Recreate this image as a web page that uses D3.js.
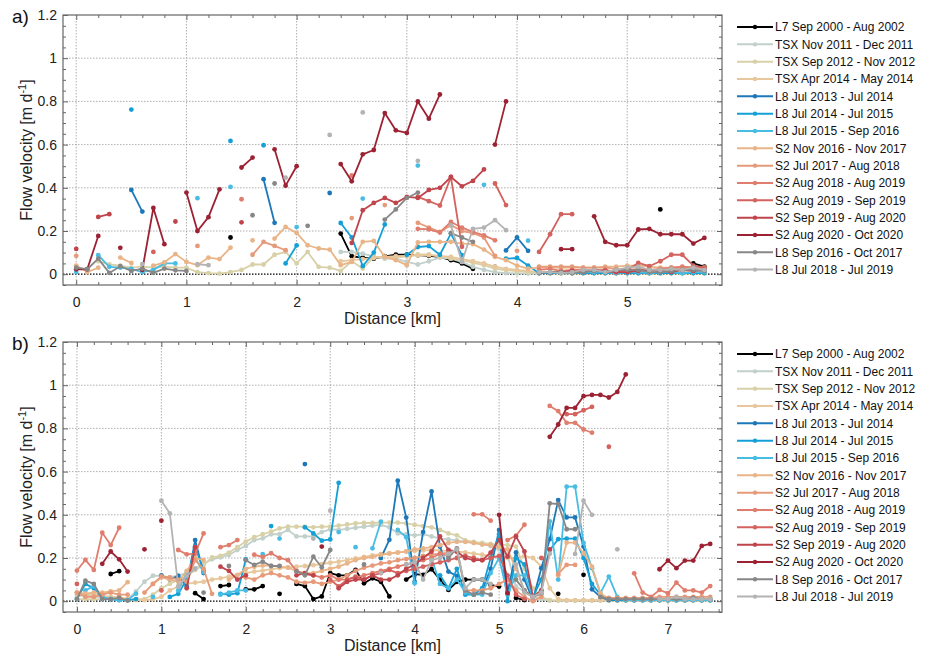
<!DOCTYPE html>
<html>
<head>
<meta charset="utf-8">
<script src="https://cdn.jsdelivr.net/npm/d3@7"></script>
<style>
  body { margin: 0; background: #fff; }
  svg { font-family: "Liberation Sans", Arial, Helvetica, sans-serif; }
</style>
</head>
<body>
<div id="chart"></div>
<script>
const _ = null;

const seriesLabels = [
    "L7 Sep 2000 - Aug 2002", "TSX Nov 2011 - Dec 2011", "TSX Sep 2012 - Nov 2012", "TSX Apr 2014 - May 2014",
    "L8 Jul 2013 - Jul 2014", "L8 Jul 2014 - Jul 2015", "L8 Jul 2015 - Sep 2016",
    "S2 Nov 2016 - Nov 2017", "S2 Jul 2017 - Aug 2018", "S2 Aug 2018 - Aug 2019", "S2 Aug 2019 - Sep 2019",
    "S2 Sep 2019 - Aug 2020", "S2 Aug 2020 - Oct 2020", "L8 Sep 2016 - Oct 2017", "L8 Jul 2018 - Jul 2019"
];
const seriesColors = [
    "#000000", "#c2d0cb", "#d8d1a8", "#e8c79c", "#1c78b8", "#14a0d6", "#48bde4",
    "#e9b487", "#e69a79", "#e07d6c", "#d4625e", "#c0444b", "#9c2233", "#878787", "#b3b3b3"
];

// sample spacing along the profile (km)
const stepKm = 0.1;

// ---- panel a) values, one per 0.1 km from 0 to 5.7 km ----
const aL7 = [_,_,_,_,_,_,_,_,_,_,
    _,_,_,_,.17,_,_,_,_,_,
    _,_,_,_,.188,.083,.077,.072,.083,.09,
    .09,.088,.085,.08,.065,.05,.025,_,.034,_,
    _,_,_,_,_,_,_,_,_,_,
    _,_,_,.3,_,_,.05,.035];
const aTSX2011 = [_,_,_,_,_,_,_,_,_,_,
    _,_,_,_,_,_,_,_,_,_,
    _,_,_,_,.103,.103,.095,.083,.072,.072,
    .057,.045,.06,.077,.072,.057,.034,.02,.01,.005,
    .004,.003,.003,_,_,_,_,_,_,_,
    _,_,_,_,_,_,_,_];
const aTSX2012 = [_,_,.06,.045,.04,.03,.035,.03,.035,.03,
    .03,.01,.005,.003,.01,.02,.045,.045,.09,.103,
    .05,.103,.034,.03,.015,.06,.026,.08,.08,.077,
    .083,.092,.092,.08,.072,.065,.052,.042,.026,.018,
    .014,.01,.005,.003,.003,.003,.003,.003,.003,.003,
    .003,.003,.003,.003,.003,.003,.003,.003];
const aTSX2014 = [_,_,_,_,_,_,_,_,_,_,
    _,_,_,_,_,_,_,_,_,_,
    _,_,_,_,.06,.065,.07,.075,.08,.083,
    .085,.087,.088,.085,.08,.07,.06,.05,.035,.025,
    .02,.015,.01,.01,.01,.01,.01,.01,.01,.01,
    .01,.01,.01,.01,.01,.01,.01,.01];
const aL8_1314 = [_,_,_,_,_,.39,.29,_,_,_,
    _,_,_,_,_,_,_,.44,.238,_,
    _,_,_,.376,_,_,_,_,_,_,
    _,_,_,_,_,_,_,_,_,.11,
    .17,.108,_,_,_,_,_,_,_,_,
    _,_,_,_,_,_,_,_];
const aL8_1415 = [_,_,_,_,_,.762,_,_,_,_,
    _,_,_,_,.617,_,_,.597,_,.05,
    .133,_,_,_,.237,.17,.038,.1,.23,_,
    .09,.126,.13,.09,.188,.088,_,_,_,.072,
    .075,.04,.005,.005,.005,.005,.005,.005,.005,.005,
    .005,.005,.005,.005,.005,.005,.005,.005];
const aL8_1516 = [.01,_,.088,.034,.03,.025,.01,.02,.05,.05,
    _,.352,_,_,.404,_,_,_,_,_,
    .218,_,_,_,_,_,.35,_,_,_,
    _,.503,_,_,_,_,_,.414,_,_,
    _,.155,_,.01,.01,.005,.01,.01,.01,.005,
    .01,.01,.005,.01,.01,.005,.01,.01];
const aS2_1617 = [.04,.01,.03,_,.077,.052,_,.04,.055,.093,
    .057,.042,.077,.07,.123,_,.157,_,.165,.219,
    .191,.134,.119,.114,.042,.057,.15,.154,.08,.065,
    .042,.147,.15,.15,.15,.142,.139,.114,.08,.065,
    .04,.026,.03,.03,.03,.03,.03,.03,.035,.035,
    .04,.04,.035,.03,.03,.03,.035,.03];
const aS2_1718 = [.085,_,_,_,_,_,_,_,_,_,
    _,.131,_,_,_,_,.09,.15,.131,.111,
    _,_,_,_,_,.26,_,_,.32,_,
    _,.238,.216,.196,.227,.2,.19,.17,.085,_,
    .108,_,.035,.035,.035,.035,.03,.03,.03,.025,
    .02,.025,.02,.02,.025,.025,.03,.03];
const aS2_1819 = [_,_,_,_,_,_,_,_,_,_,
    _,_,_,_,_,.347,_,_,_,_,
    _,_,_,_,_,.457,_,_,_,_,
    _,.21,.208,.193,.242,.216,.196,.18,.157,_,
    _,_,.02,.025,.015,.02,.02,.015,.02,.01,
    .015,.02,.02,.025,.03,.035,.03,.025];
const aS2_1919 = [_,_,_,_,_,_,_,.103,_,_,
    _,_,_,_,_,_,_,_,_,_,
    _,_,_,_,_,_,_,_,_,_,
    _,.358,.338,.318,.45,.127,_,_,.42,.32,
    _,_,.103,.185,.278,.278,_,_,.01,.015,
    .02,.052,.037,.06,.09,.09,.04,.03];
const aS2_1920 = [.117,_,.265,.278,_,_,_,_,_,.244,
    _,_,_,_,_,.24,_,_,_,_,
    _,_,_,_,_,.145,.296,.33,.353,.33,
    .358,.353,.39,.4,.45,.407,.432,.485,_,_,
    _,_,_,.01,.01,.015,.01,.02,.015,.01,
    .01,.015,.02,.015,.01,.02,.015,.02];
const aS2_2020 = [.023,.023,.177,_,.122,_,.02,.307,.139,_,
    .378,.2,.264,.393,_,.494,.54,_,.578,.41,
    .5,_,_,_,.51,.43,.555,.575,.746,.666,
    .654,.8,.72,.832,_,_,_,_,.6,.8,
    _,_,_,_,.116,.116,_,.268,.15,.134,
    .134,.207,.21,.185,.185,.185,.142,.168];
const aL8_1617 = [.03,.023,.072,.006,.037,.015,.026,.006,.026,.018,
    .015,_,_,_,_,_,.273,_,.42,_,
    _,.224,_,_,_,_,_,_,.253,.3,
    .353,.378,_,_,.19,.17,.15,_,_,_,
    _,_,.005,.01,.01,.005,.01,.015,.01,.02,
    .02,.02,.01,.01,.015,.02,.02,.015];
const aL8_1819 = [_,_,_,_,_,_,.047,_,_,_,
    _,.046,.042,_,_,_,_,_,_,.447,
    _,_,_,.645,_,_,.749,_,_,_,
    _,.525,_,_,.226,.057,.21,.216,.25,.204,
    _,_,.01,.01,.005,.01,.02,.02,.01,.02,
    .03,.035,.02,.02,.025,.02,.03,.02];

// ---- panel b) values, one per 0.1 km from 0 to 7.5 km ----
const bL7 = [_,_,_,_,.126,.139,_,_,_,_,
    _,_,_,_,.037,.01,_,.07,.075,_,
    .055,.055,.07,_,.034,_,.08,.07,.01,.022,
    .13,.12,.12,.145,.083,.106,.09,.022,_,.1,
    .125,.122,.148,.1,.052,.09,.1,.1,.1,.075,
    .068,_,.015,.005,_,_,_,.034,_,_,
    .122,_,_,_,_,_,_,_,_,_,
    _,_,_,_,_,_];
const bTSX2011 = [.02,.03,.02,.02,.02,.015,.01,.045,.09,.118,
    .117,.11,.12,.13,.153,.172,.194,.203,.214,.237,
    .256,.283,.291,.31,.31,.33,.3,.3,.3,.32,
    .333,.33,.335,.34,.345,.35,.353,.342,.314,.31,
    .305,.31,.3,.29,.286,.282,.275,.27,.265,.255,
    .24,.215,.068,.045,.02,.01,.003,.003,.003,.003,
    .003,.003,.003,.003,.003,.003,.003,.003,.003,.003,
    .003,.003,.003,.003,.003,.003];
const bTSX2012 = [.01,.01,.01,.01,.01,.01,.005,.01,.01,.03,
    .06,.08,.1,.114,.145,.168,.203,.21,.225,.25,
    .276,.296,.31,.322,.337,.345,.345,.345,.342,.345,
    .345,.35,.355,.36,.362,.362,.364,.364,.364,.36,
    .353,.348,.342,.33,.314,.305,.282,.275,.27,.265,
    .262,.26,.253,.15,.06,.02,.005,.003,.003,.003,
    .003,.003,.003,.003,.003,.003,.003,.003,.003,.003,
    .003,.003,.003,.003,.003,.003];
const bTSX2014 = [.03,.03,.03,.025,.02,.02,.01,.005,.005,.01,
    .02,.05,.068,.08,.086,.09,.1,.106,.114,.122,
    .13,.137,.142,.148,.153,.157,.16,.163,.167,.172,
    .178,.183,.19,.198,.205,.212,.218,.222,.226,.23,
    .233,.235,.237,.235,.232,.23,.226,.22,.215,.21,
    .205,.2,.2,.21,.2,.16,.06,.01,.005,.005,
    .005,.005,.005,.005,.005,.005,.005,.005,.005,.005,
    .005,.005,.005,.005,.005,.005];
const bL8_1314 = [_,_,_,_,_,_,_,_,_,_,
    .12,.1,.117,.068,.283,.13,_,_,_,_,
    _,_,_,_,_,_,_,.635,_,_,
    _,_,_,_,_,_,.2,.284,.558,.387,
    .09,.32,.508,.253,.137,.117,_,_,.05,.15,
    .33,.04,.226,.1,.006,.153,.287,.468,.388,.388,
    .253,.055,.02,.005,.005,.005,.005,.005,.005,.005,
    .005,.005,.005,.005,.005,.005];
const bL8_1415 = [.01,.08,.06,.01,.01,.005,.005,.01,_,_,
    _,.02,.034,.1,.253,.14,_,.034,.03,.037,
    .194,_,_,.348,_,_,_,.342,.314,.28,
    .286,.548,_,_,_,_,_,_,_,_,
    _,_,_,.12,.06,.15,.03,.03,.06,.2,
    .31,0,.2,.17,.02,.1,.237,.287,.29,.29,
    .2,.08,.03,.01,.005,.005,.005,.005,.005,.005,
    .005,.005,.005,.005,.005,.005];
const bL8_1516 = [_,.05,.07,.02,.01,.005,.005,.035,_,.02,
    _,_,.05,.13,.2,.135,_,.03,.04,.05,
    .05,_,.218,_,.29,_,_,_,_,_,
    _,.32,_,.25,_,.245,.368,_,.33,.296,
    .083,_,.2,.08,.06,.1,.04,.03,.03,.13,
    .2,.03,.12,.12,.02,.05,.37,.1,.53,.53,
    .27,.153,.037,.114,.02,.005,.005,.005,.005,.005,
    .005,.005,.005,.005,.005,.005];
const bS2_1617 = [.04,.035,.04,.04,.045,.05,.088,_,_,.08,
    .11,.1,.09,.14,.2,.19,_,_,.1,.12,
    .15,.16,.165,.165,.16,.155,.14,.13,.13,.14,
    .15,.16,.175,.19,.2,.205,.215,.22,.225,.23,
    .24,.245,.25,.26,.27,.275,.275,.27,.262,.26,
    .25,.24,.15,.05,.02,.03,_,.12,.271,.271,
    .222,.16,.037,.01,.01,.01,.01,.01,.01,.01,
    .01,.01,.01,.01,.01,.01];
const bS2_1718 = [.04,.02,.02,.03,.04,.03,.03,_,.04,.08,
    .115,.11,.1,.09,.19,.15,.034,_,_,_,
    .11,.1,.12,.13,.12,.11,.09,.085,.09,.08,
    .09,.1,.12,.14,.155,.165,.175,.18,.19,.195,
    .2,.21,.215,.22,.225,.23,.05,.05,.05,.06,
    .08,.1,.05,.02,0,.02,_,.126,.168,.168,
    _,_,.02,.015,.015,.015,.015,.015,.015,.02,
    .02,.02,.02,.02,.02,.02];
const bS2_1819 = [.142,.191,.145,.317,.26,.34,_,_,_,_,
    _,_,.237,.217,.22,.314,_,.25,.26,.283,
    _,.215,.205,.222,.2,.19,.14,.125,.12,.11,
    .12,.1,.1,.11,.12,.13,.14,.15,.16,.17,
    .18,.19,.2,.22,.21,_,_,.402,.402,.373,
    _,.283,.303,.354,_,_,.904,.88,.826,.826,
    .795,.78,_,_,_,_,.129,.04,.02,.052,
    .037,.086,.05,.05,.04,.07];
const bS2_1919 = [.08,_,_,_,_,_,_,_,_,_,
    .05,_,_,_,_,_,_,_,_,_,
    _,_,_,_,_,_,_,_,_,_,
    .1,.068,.1,.114,.1,.12,.13,.145,.13,.14,
    .15,.16,.17,.18,.19,.2,.21,.2,.19,.2,
    .21,.12,.03,.01,_,.2,_,_,.866,.866,
    .884,.9,_,.715,_,_,_,_,_,_,
    _,_,_,_,_,_];
const bS2_1920 = [_,_,_,_,_,_,_,_,_,_,
    _,_,_,.06,.25,_,_,.16,.14,.1,
    .12,_,_,_,_,_,.12,.13,.12,_,
    _,.06,.09,.1,.1,.12,.1,.1,.12,.15,
    .17,.2,.23,.3,.237,.23,.2,.19,.19,.225,
    .283,.206,.3,.23,.02,.05,.24,_,_,_,
    _,_,_,_,_,_,_,_,_,_,
    _,_,_,_,_,_];
const bS2_2020 = [_,_,_,.173,.23,.194,.137,_,.24,_,
    .373,_,_,_,_,_,_,_,_,_,
    _,_,_,_,_,_,_,_,_,.253,
    _,_,_,_,_,_,_,_,_,_,
    _,_,_,_,_,_,_,_,_,_,
    .4,.037,_,_,_,_,.761,.818,.895,.895,
    .949,.955,.955,.943,.969,1.05,_,_,_,.148,
    .188,.153,.188,.188,.256,.265];
const bL8_1617 = [.01,.095,.08,.01,.01,.015,.003,_,_,_,
    _,_,_,_,_,.04,_,_,.163,_,
    .19,.168,.183,.163,.163,_,.138,.12,.206,.157,
    .237,_,_,_,.17,_,_,_,_,_,
    _,_,_,_,.2,.245,.05,.03,.04,.03,
    _,_,.1,.05,.02,.037,.453,.45,.333,.333,
    _,_,.02,.01,.01,.01,.01,.01,.01,.01,
    .01,.01,.01,.015,.01,.01];
const bL8_1819 = [_,_,_,_,_,_,_,_,_,_,
    .465,.407,.068,.117,.15,_,_,_,_,_,
    _,_,_,_,_,_,_,_,.29,_,
    .419,_,_,_,_,_,.13,_,_,.17,
    .18,.1,.19,.2,.22,.24,.06,.1,.1,.08,
    _,_,.17,.04,.02,.04,.22,_,_,.219,
    .465,.4,_,_,.24,_,_,_,_,.01,
    .01,.02,.01,.01,.01,.01];

const panelAValues = [aL7, aTSX2011, aTSX2012, aTSX2014, aL8_1314, aL8_1415, aL8_1516,
    aS2_1617, aS2_1718, aS2_1819, aS2_1919, aS2_1920, aS2_2020, aL8_1617, aL8_1819];
const panelBValues = [bL7, bTSX2011, bTSX2012, bTSX2014, bL8_1314, bL8_1415, bL8_1516,
    bS2_1617, bS2_1718, bS2_1819, bS2_1919, bS2_1920, bS2_2020, bL8_1617, bL8_1819];

const yTicks = [0, 0.2, 0.4, 0.6, 0.8, 1, 1.2];

const svg = d3.select("#chart")
    .append("svg")
    .attr("width", 927)
    .attr("height", 656);

function drawPanel(cfg) {
    const { id, tag, top, bottom, left, right, xDomain, xTicks, values } = cfg;

    const x = d3.scaleLinear().domain(xDomain).range([left, right]);
    const y = d3.scaleLinear().domain([-0.05, 1.2]).range([bottom, top]);

    const g = svg.append("g");

    svg.append("clipPath").attr("id", "clip-" + id)
        .append("rect")
        .attr("x", left).attr("y", top)
        .attr("width", right - left).attr("height", bottom - top);

    // grid
    g.append("g").selectAll("line")
        .data(xTicks)
        .join("line")
        .attr("x1", d => x(d)).attr("x2", d => x(d))
        .attr("y1", top).attr("y2", bottom)
        .attr("stroke", "#9b9b9b")
        .attr("stroke-width", 0.8)
        .attr("stroke-dasharray", "1.5,1.5");

    g.append("g").selectAll("line")
        .data(yTicks.filter(d => d > 0 && d < 1.2))
        .join("line")
        .attr("x1", left).attr("x2", right)
        .attr("y1", d => y(d)).attr("y2", d => y(d))
        .attr("stroke", "#9b9b9b")
        .attr("stroke-width", 0.8)
        .attr("stroke-dasharray", "1.5,1.5");

    g.append("line")
        .attr("x1", left).attr("x2", right)
        .attr("y1", y(0)).attr("y2", y(0))
        .attr("stroke", "#000")
        .attr("stroke-width", 1.2)
        .attr("stroke-dasharray", "1.5,1.5");

    // series
    const plot = g.append("g").attr("clip-path", `url(#clip-${id})`);
    const line = d3.line()
        .defined(d => d.v !== null)
        .x(d => x(d.d))
        .y(d => y(d.v));

    values.forEach((vals, si) => {
        const pts = vals.map((v, i) => ({ d: i * stepKm, v: v }));
        const sg = plot.append("g");
        sg.append("path")
            .datum(pts)
            .attr("d", line)
            .attr("fill", "none")
            .attr("stroke", seriesColors[si])
            .attr("stroke-width", 1.8)
            .attr("stroke-linejoin", "round");
        sg.selectAll("circle")
            .data(pts.filter(p => p.v !== null))
            .join("circle")
            .attr("cx", p => x(p.d))
            .attr("cy", p => y(p.v))
            .attr("r", 2.4)
            .attr("fill", seriesColors[si]);
    });

    // frame
    g.append("rect")
        .attr("x", left).attr("y", top)
        .attr("width", right - left).attr("height", bottom - top)
        .attr("fill", "none")
        .attr("stroke", "#666")
        .attr("stroke-width", 1.2);

    // ticks
    const xMinor = d3.range(Math.ceil(xDomain[0] * 5), Math.floor(xDomain[1] * 5) + 1)
        .map(i => i / 5).filter(d => Math.abs(d - Math.round(d)) > 1e-6);
    const yMinor = d3.range(-1, 25).map(i => i * 0.05).filter(d => Math.abs(d * 5 - Math.round(d * 5)) > 1e-6);

    const styleAxis = sel => {
        sel.select(".domain").remove();
        sel.attr("font-family", null).attr("font-size", 14).attr("color", "#666");
        sel.selectAll("text").attr("fill", "#222");
    };

    g.append("g")
        .attr("transform", `translate(0,${bottom})`)
        .call(d3.axisBottom(x).tickValues(xTicks).tickSize(-5).tickPadding(12).tickFormat(d3.format("d")))
        .call(styleAxis);
    g.append("g")
        .attr("transform", `translate(0,${bottom})`)
        .call(d3.axisBottom(x).tickValues(xMinor).tickSize(-3).tickFormat(""))
        .call(styleAxis);
    g.append("g")
        .attr("transform", `translate(0,${top})`)
        .call(d3.axisTop(x).tickValues(xTicks).tickSize(-5).tickFormat(""))
        .call(styleAxis);
    g.append("g")
        .attr("transform", `translate(0,${top})`)
        .call(d3.axisTop(x).tickValues(xMinor).tickSize(-3).tickFormat(""))
        .call(styleAxis);

    g.append("g")
        .attr("transform", `translate(${left},0)`)
        .call(d3.axisLeft(y).tickValues(yTicks).tickSize(-5).tickPadding(6).tickFormat(d3.format("~g")))
        .call(styleAxis);
    g.append("g")
        .attr("transform", `translate(${left},0)`)
        .call(d3.axisLeft(y).tickValues(yMinor).tickSize(-3).tickFormat(""))
        .call(styleAxis);
    g.append("g")
        .attr("transform", `translate(${right},0)`)
        .call(d3.axisRight(y).tickValues(yTicks).tickSize(-5).tickFormat(""))
        .call(styleAxis);
    g.append("g")
        .attr("transform", `translate(${right},0)`)
        .call(d3.axisRight(y).tickValues(yMinor).tickSize(-3).tickFormat(""))
        .call(styleAxis);

    // labels
    g.append("text")
        .attr("x", (left + right) / 2)
        .attr("y", bottom + 39)
        .attr("text-anchor", "middle")
        .attr("font-size", 16)
        .attr("fill", "#222")
        .text("Distance [km]");

    const yl = g.append("text")
        .attr("transform", `translate(32,${(top + bottom) / 2}) rotate(-90)`)
        .attr("text-anchor", "middle")
        .attr("font-size", 16)
        .attr("fill", "#222");
    yl.append("tspan").text("Flow velocity [m d");
    yl.append("tspan").attr("font-size", 11).attr("dy", -6).text("-1");
    yl.append("tspan").attr("dy", 6).text("]");

    g.append("text")
        .attr("x", 12)
        .attr("y", top + 8)
        .attr("font-size", 19)
        .attr("fill", "#111")
        .text(tag);

    // legend
    const legend = g.append("g").attr("transform", `translate(737,${top + 12})`);
    const rows = legend.selectAll("g")
        .data(seriesLabels)
        .join("g")
        .attr("transform", (d, i) => `translate(0,${i * 17.33})`);
    rows.append("line")
        .attr("x1", 0).attr("x2", 36)
        .attr("stroke", (d, i) => seriesColors[i])
        .attr("stroke-width", 2);
    rows.append("circle")
        .attr("cx", 18).attr("r", 2.2)
        .attr("fill", (d, i) => seriesColors[i]);
    rows.append("text")
        .attr("x", 38)
        .attr("dy", "0.36em")
        .attr("font-size", 12)
        .attr("fill", "#111")
        .text(d => d);
}

drawPanel({
    id: "a", tag: "a)", top: 15, bottom: 285, left: 63, right: 722,
    xDomain: [-0.12, 5.86], xTicks: [0, 1, 2, 3, 4, 5], values: panelAValues
});
drawPanel({
    id: "b", tag: "b)", top: 342, bottom: 612, left: 63, right: 722,
    xDomain: [-0.165, 7.64], xTicks: [0, 1, 2, 3, 4, 5, 6, 7], values: panelBValues
});
</script>
</body>
</html>
